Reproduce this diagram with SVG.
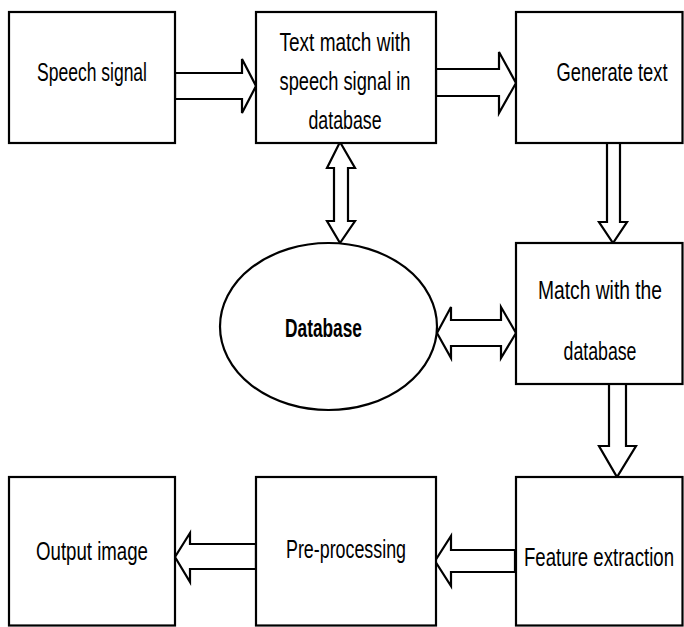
<svg xmlns="http://www.w3.org/2000/svg" width="684" height="627" viewBox="0 0 684 627">
<style>
.box{fill:#fff;stroke:#000;stroke-width:2.2}
.arr{fill:#fff;stroke:#000;stroke-width:2.2;stroke-linejoin:miter}
.t{font-family:"Liberation Sans",Arial,sans-serif;font-size:26px;fill:#000;text-anchor:middle}
.b{font-weight:bold}
</style>
<rect width="684" height="627" fill="#fff"/>
<g id="connectors">
<polygon class="arr" points="175,73 242,73 242,59 256,86 242,113 242,99 175,99"/>
<polygon class="arr" points="436,69 499,69 499,52 516,83 499,113 499,96 436,96"/>
<polygon class="arr" points="607,142 620,142 620,222 627,222 613,243 599,222 607,222"/>
<polygon class="arr" points="340,142 355,168 348,168 348,221 355,221 340,243 327,221 334,221 334,168 327,168"/>
<polygon class="arr" points="609,384 626,384 626,446 636,446 617,477 599,446 609,446"/>
<polygon class="arr" points="515,550 451,550 451,536 435,561 451,586 451,572 515,572"/>
<polygon class="arr" points="256,544 190,544 190,533 175,557 190,582 190,569 256,569"/>
<polygon class="arr" points="437,333 451,307 451,320 501,320 501,307 516,333 501,358 501,346 451,346 451,358"/>
</g>
<g id="speech">
<rect class="box" x="9" y="12" width="166" height="131"/>
<text class="t" x="92" y="81" textLength="110" lengthAdjust="spacingAndGlyphs">Speech signal</text>
</g>
<g id="textmatch">
<rect class="box" x="256" y="12" width="180" height="131"/>
<text class="t" x="345" y="51" textLength="131" lengthAdjust="spacingAndGlyphs">Text match with</text>
<text class="t" x="345" y="90" textLength="131" lengthAdjust="spacingAndGlyphs">speech signal in</text>
<text class="t" x="345" y="129" textLength="73" lengthAdjust="spacingAndGlyphs">database</text>
</g>
<g id="generate">
<rect class="box" x="516" y="12" width="166.5" height="131"/>
<text class="t" transform="translate(612,81) scale(0.705,1)" x="0" y="0" textLength="157.4" lengthAdjust="spacingAndGlyphs">Generate text</text>
</g>
<g id="database">
<ellipse class="box" cx="328.5" cy="326.5" rx="108.5" ry="83.5"/>
<text class="t b" x="323.5" y="337" textLength="77" lengthAdjust="spacingAndGlyphs">Database</text>
</g>
<g id="matchdb">
<rect class="box" x="516" y="243" width="166.5" height="141"/>
<text class="t" transform="translate(600,299) scale(0.742,1)" x="0" y="0" textLength="167.1" lengthAdjust="spacingAndGlyphs">Match with the</text>
<text class="t" transform="translate(600,360) scale(0.682,1)" x="0" y="0" textLength="107" lengthAdjust="spacingAndGlyphs">database</text>
</g>
<g id="feature">
<rect class="box" x="516" y="477" width="166.5" height="148.5"/>
<text class="t" transform="translate(599,566) scale(0.707,1)" x="0" y="0" textLength="212.2" lengthAdjust="spacingAndGlyphs">Feature extraction</text>
</g>
<g id="preprocessing">
<rect class="box" x="256" y="477" width="180" height="148.5"/>
<text class="t" x="346" y="558" textLength="120" lengthAdjust="spacingAndGlyphs">Pre-processing</text>
</g>
<g id="output">
<rect class="box" x="9" y="477" width="166" height="148.5"/>
<text class="t" x="92" y="560" textLength="112" lengthAdjust="spacingAndGlyphs">Output image</text>
</g>
</svg>
